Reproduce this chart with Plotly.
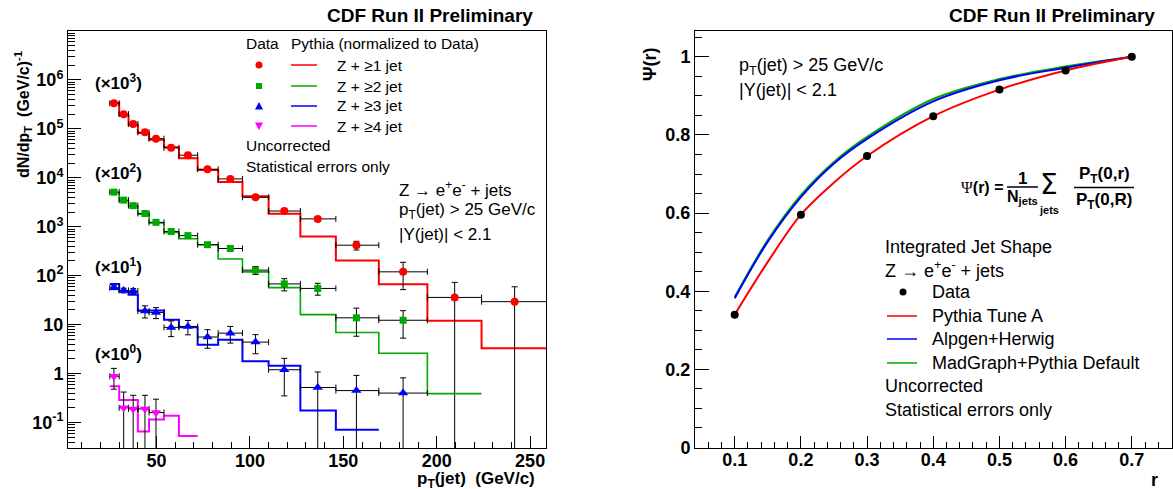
import plotly.graph_objects as go

W, H = 1173, 489
LAYOUT_H = 499  # the page renders the figure 10 px shorter than its layout height
def px(x): return x / W
def py(y): return 1 - y / H

FONT = "Liberation Sans, Arial, Helvetica, sans-serif"

# ---------------- Left panel: dN/dpT for Z + >=n jets ----------------
bin_edges = [25, 30, 35, 40, 46, 54, 62, 72, 83, 96, 110, 127, 146, 169, 195, 224, 259]
pt_mean = [27.2, 32.4, 37.5, 43.8, 49.7, 57.8, 66.8, 77.3, 89.5, 103, 118.4, 136.3, 157, 182, 209.6, 241.7]

data_z1 = [3.34e5, 2.0e5, 1.26e5, 8.5e4, 6.3e4, 4.1e4, 2.9e4, 1.5e4, 9.5e3, 4.0e3, 2.1e3, 1.45e3, 420, 120, 36, 29.5]
err_z1 = [3e3, 2.5e3, 2e3, 1.5e3, 1.2e3, 900, 800, 500, 400, 250, 180, 150, 85, 68, 37, 30]
mc_z1 = [3.4e5, 1.9e5, 1.2e5, 8.2e4, 6.0e4, 4.2e4, 2.5e4, 1.45e4, 8.2e3, 4.2e3, 1.85e3, 630, 204, 67, 12, 3.3]

data_z2 = [5.1e3, 3.5e3, 2.7e3, 1.87e3, 1.23e3, 800, 660, 430, 360, 130, 68, 55, 13.8, 12.3]
err_z2 = [90, 75, 65, 55, 45, 35, 35, 28, 25, 24, 19, 15, 8, 7]
mc_z2 = [5.0e3, 3.4e3, 2.6e3, 1.8e3, 1.2e3, 770, 570, 430, 220, 120, 57, 16, 6.9, 2.6, 0.39]

data_z3 = [57, 50, 49, 19, 17.8, 8.8, 9.2, 5.6, 6.7, 4.4, 1.2, 0.52, 0.45, 0.40]
err_z3 = [5, 5.5, 5.5, 5.3, 4.5, 3.1, 3.0, 2.3, 2.5, 1.85, 0.85, 0.56, 0.47, 0.42]
mc_z3 = [68, 48, 41, 19.5, 19.5, 12.6, 8.9, 3.9, 4.9, 1.78, 1.44, 0.176, 0.071]

data_z4 = [0.88, 0.20, 0.19, 0.19, 0.16]
err_z4 = [0.40, 0.22, 0.17, 0.17, 0.14]
mc_z4 = [0.55, 0.29, 0.29, 0.066, 0.115, 0.137, 0.053]

y_tick_vals = [0.1, 1, 10, 1e2, 1e3, 1e4, 1e5, 1e6]
y_tick_text = ["10<sup>-1</sup>", "1", "10", "10<sup>2</sup>", "10<sup>3</sup>",
               "10<sup>4</sup>", "10<sup>5</sup>", "10<sup>6</sup>"]
x_tick_vals = [50, 100, 150, 200, 250]

# ---------------- Right panel: integrated jet shape ----------------
r_data = [0.1, 0.2, 0.3, 0.4, 0.5, 0.6, 0.7]
psi_data = [0.340, 0.596, 0.746, 0.848, 0.916, 0.965, 1.0]
r_mc = [0.1, 0.15, 0.2, 0.25, 0.3, 0.4, 0.5, 0.6, 0.7]
psi_pythia = [0.340, 0.475, 0.596, 0.678, 0.746, 0.848, 0.916, 0.965, 1.0]
psi_alpgen = [0.382, 0.527, 0.641, 0.727, 0.790, 0.886, 0.940, 0.972, 1.0]
psi_madgraph = [0.385, 0.531, 0.646, 0.731, 0.795, 0.892, 0.943, 0.975, 1.0]

RED, GREEN, BLUE, MAG = "#ff0000", "#00aa00", "#0000ff", "#ff00ff"

fig = go.Figure()

def add_series(data, err, mc, color, symbol, msize, lw):
    n = len(mc)
    fig.add_trace(go.Scatter(
        x=bin_edges[:n + 1], y=mc + [mc[-1]], mode="lines", line=dict(color=color, width=lw, shape="hv"),
        xaxis="x", yaxis="y", showlegend=False))
    m = len(data)
    xs = pt_mean[:m]
    lo = [xs[i] - bin_edges[i] for i in range(m)]
    hi = [bin_edges[i + 1] - xs[i] for i in range(m)]
    fig.add_trace(go.Scatter(
        x=xs, y=data, mode="markers",
        marker=dict(color=color, symbol=symbol, size=msize, line=dict(width=0)),
        error_x=dict(type="data", symmetric=False, array=hi, arrayminus=lo, color="black", thickness=1, width=3),
        error_y=dict(type="data", array=err, color="black", thickness=1, width=3),
        xaxis="x", yaxis="y", showlegend=False))

add_series(data_z1, err_z1, mc_z1, RED, "circle", 8, 2)
add_series(data_z2, err_z2, mc_z2, GREEN, "square", 7, 1.6)
add_series(data_z3, err_z3, mc_z3, BLUE, "triangle-up", 9, 2)
add_series(data_z4, err_z4, mc_z4, MAG, "triangle-down", 9, 2)

fig.add_trace(go.Scatter(x=r_mc, y=psi_madgraph, mode="lines", line=dict(color=GREEN, width=2, shape="spline"),
                         xaxis="x2", yaxis="y2", showlegend=False))
fig.add_trace(go.Scatter(x=r_mc, y=psi_alpgen, mode="lines", line=dict(color=BLUE, width=2, shape="spline"),
                         xaxis="x2", yaxis="y2", showlegend=False))
fig.add_trace(go.Scatter(x=r_mc, y=psi_pythia, mode="lines", line=dict(color=RED, width=2, shape="spline"),
                         xaxis="x2", yaxis="y2", showlegend=False))
fig.add_trace(go.Scatter(x=r_data, y=psi_data, mode="markers", marker=dict(color="black", size=8),
                         xaxis="x2", yaxis="y2", showlegend=False))

tickfont = dict(family=FONT, size=18, color="black", weight="bold")
axis_common = dict(showline=True, linecolor="black", linewidth=1, mirror=True, ticks="inside",
                   tickcolor="black", tickwidth=1, showgrid=False, zeroline=False, tickfont=tickfont)

minor_y_left = [m * 10 ** k for k in range(-2, 7) for m in range(2, 10)]

fig.update_layout(
    width=W, height=LAYOUT_H, margin=dict(l=0, r=0, t=0, b=0), autosize=False,
    paper_bgcolor="white", plot_bgcolor="white", hovermode=False,
    xaxis=dict(domain=[px(68), px(546)], range=[2.6, 258.5], anchor="y",
               tickmode="array", tickvals=x_tick_vals, ticklen=12, ticklabelstandoff=-4,
               minor=dict(tickmode="linear", tick0=0, dtick=10, ticklen=6, ticks="inside", tickcolor="black"),
               **axis_common),
    yaxis=dict(domain=[py(448), py(31)], type="log", range=[-1.52, 7.0], anchor="x",
               tickmode="array", tickvals=y_tick_vals, ticktext=y_tick_text, ticklen=13,
               minor=dict(tickmode="array", tickvals=minor_y_left, ticklen=7, ticks="inside", tickcolor="black"),
               **axis_common),
    xaxis2=dict(domain=[px(695), px(1171.5)], range=[0.04, 0.76], anchor="y2",
                tickmode="linear", tick0=0, dtick=0.1, ticklen=12, ticklabelstandoff=-4,
                minor=dict(tickmode="linear", tick0=0, dtick=0.02, ticklen=6, ticks="inside", tickcolor="black"),
                **axis_common),
    yaxis2=dict(domain=[py(447.5), py(31)], range=[0, 1.066], anchor="x2",
                tickmode="linear", tick0=0, dtick=0.2, ticklen=14,
                minor=dict(tickmode="linear", tick0=0, dtick=0.05, ticklen=7, ticks="inside", tickcolor="black"),
                **axis_common),
)

annotations = []
def txt(x, y, text, size=16, xanchor="left", yanchor="middle", angle=0, bold=False, family=FONT):
    t = f"<b>{text}</b>" if bold else text
    annotations.append(dict(x=px(x), y=py(y), xref="paper", yref="paper", text=t, showarrow=False,
                            xanchor=xanchor, yanchor=yanchor, textangle=angle,
                            font=dict(family=family, size=size, color="black")))

txt(535, 15, "CDF Run II Preliminary", size=19, xanchor="right", bold=True)
txt(1157, 15, "CDF Run II Preliminary", size=19, xanchor="right", bold=True)
txt(23, 115, "dN/dp<sub>T</sub>  (GeV/c)<sup>-1</sup>", size=16, xanchor="center", angle=-90, bold=True)
txt(537, 480, "p<sub>T</sub>(jet)  (GeV/c)", size=17, xanchor="right", bold=True)
txt(650, 64, "Ψ(r)", size=18, xanchor="center", angle=-90, bold=True)
txt(1160, 480, "r", size=18, xanchor="right", bold=True)

txt(93, 82, "(×10<sup>3</sup>)", size=17, bold=True)
txt(93, 172, "(×10<sup>2</sup>)", size=17, bold=True)
txt(93, 266, "(×10<sup>1</sup>)", size=17, bold=True)
txt(93, 353, "(×10<sup>0</sup>)", size=17, bold=True)

txt(244, 44, "Data", size=15.5)
txt(289, 44, "Pythia (normalized to Data)", size=15.5)
rows = [65, 86, 106, 126]
labels = ["Z + ≥1 jet", "Z + ≥2 jet", "Z + ≥3 jet", "Z + ≥4 jet"]
for yy, lab in zip(rows, labels):
    txt(335, yy, lab, size=15.5)
txt(244, 145, "Uncorrected", size=15.5)
txt(244, 167, "Statistical errors only", size=15.5)

txt(397, 189, "Z → e<sup>+</sup>e<sup>-</sup> + jets", size=17)
txt(397, 211, "p<sub>T</sub>(jet) > 25 GeV/c", size=17)
txt(397, 234, "|Y(jet)| < 2.1", size=17)

txt(737, 66, "p<sub>T</sub>(jet) > 25 GeV/c", size=18)
txt(737, 90, "|Y(jet)| < 2.1", size=18)
txt(883, 247, "Integrated Jet Shape", size=18)
txt(883, 269, "Z → e<sup>+</sup>e<sup>-</sup> + jets", size=18)
txt(930, 292, "Data", size=18)
txt(930, 316, "Pythia Tune A", size=18)
txt(930, 339, "Alpgen+Herwig", size=18)
txt(930, 363, "MadGraph+Pythia Default", size=18)
txt(883, 386, "Uncorrected", size=18)
txt(883, 410, "Statistical errors only", size=18)

txt(1005, 188, "<span style='font-family:Liberation Serif'>Ψ</span><b>(r) =</b>", size=16, xanchor="right")
txt(1022, 178, "1", size=17, xanchor="center", bold=True)
txt(1022, 197, "N<sub>jets</sub>", size=16, xanchor="center", bold=True)
txt(1049, 185, "Σ", size=28, xanchor="center", family="DejaVu Sans")
txt(1049, 210, "jets", size=11, xanchor="center", bold=True)
txt(1104, 175, "P<sub>T</sub>(0,r)", size=17, xanchor="center", bold=True)
txt(1104, 201, "P<sub>T</sub>(0,R)", size=17, xanchor="center", bold=True)

shapes = []
def hline(x0, x1, y, color, width):
    shapes.append(dict(type="line", xref="paper", yref="paper", x0=px(x0), x1=px(x1), y0=py(y), y1=py(y),
                       line=dict(color=color, width=width)))

def sym(kind, x, y, color, s=3.5):
    if kind == "circle":
        shapes.append(dict(type="circle", xref="paper", yref="paper", x0=px(x - s), x1=px(x + s),
                           y0=py(y + s), y1=py(y - s), fillcolor=color, line=dict(width=0)))
    elif kind == "square":
        shapes.append(dict(type="rect", xref="paper", yref="paper", x0=px(x - s), x1=px(x + s),
                           y0=py(y + s), y1=py(y - s), fillcolor=color, line=dict(width=0)))
    else:
        if kind == "up":
            pts = [(x - s - 0.5, y + s), (x + s + 0.5, y + s), (x, y - s - 0.5)]
        else:
            pts = [(x - s - 0.5, y - s), (x + s + 0.5, y - s), (x, y + s + 0.5)]
        path = "M " + " L ".join(f"{px(a)},{py(b)}" for a, b in pts) + " Z"
        shapes.append(dict(type="path", xref="paper", yref="paper", path=path, fillcolor=color, line=dict(width=0)))

sym("circle", 259, 65, RED)
sym("square", 259, 86, GREEN, 3)
sym("up", 259, 106, BLUE)
sym("down", 259, 126, MAG)
for yy, c in zip(rows, [RED, GREEN, BLUE, MAG]):
    hline(291, 317, yy, c, 1.5)

sym("circle", 903, 292, "black")
hline(887, 917, 316, RED, 1.5)
hline(887, 917, 339, BLUE, 1.5)
hline(887, 917, 363, GREEN, 1.5)

hline(1007, 1038, 187, "black", 1.5)
hline(1074, 1134, 187.5, "black", 1.5)

fig.update_layout(annotations=annotations, shapes=shapes)
fig.write_html("out.html")
